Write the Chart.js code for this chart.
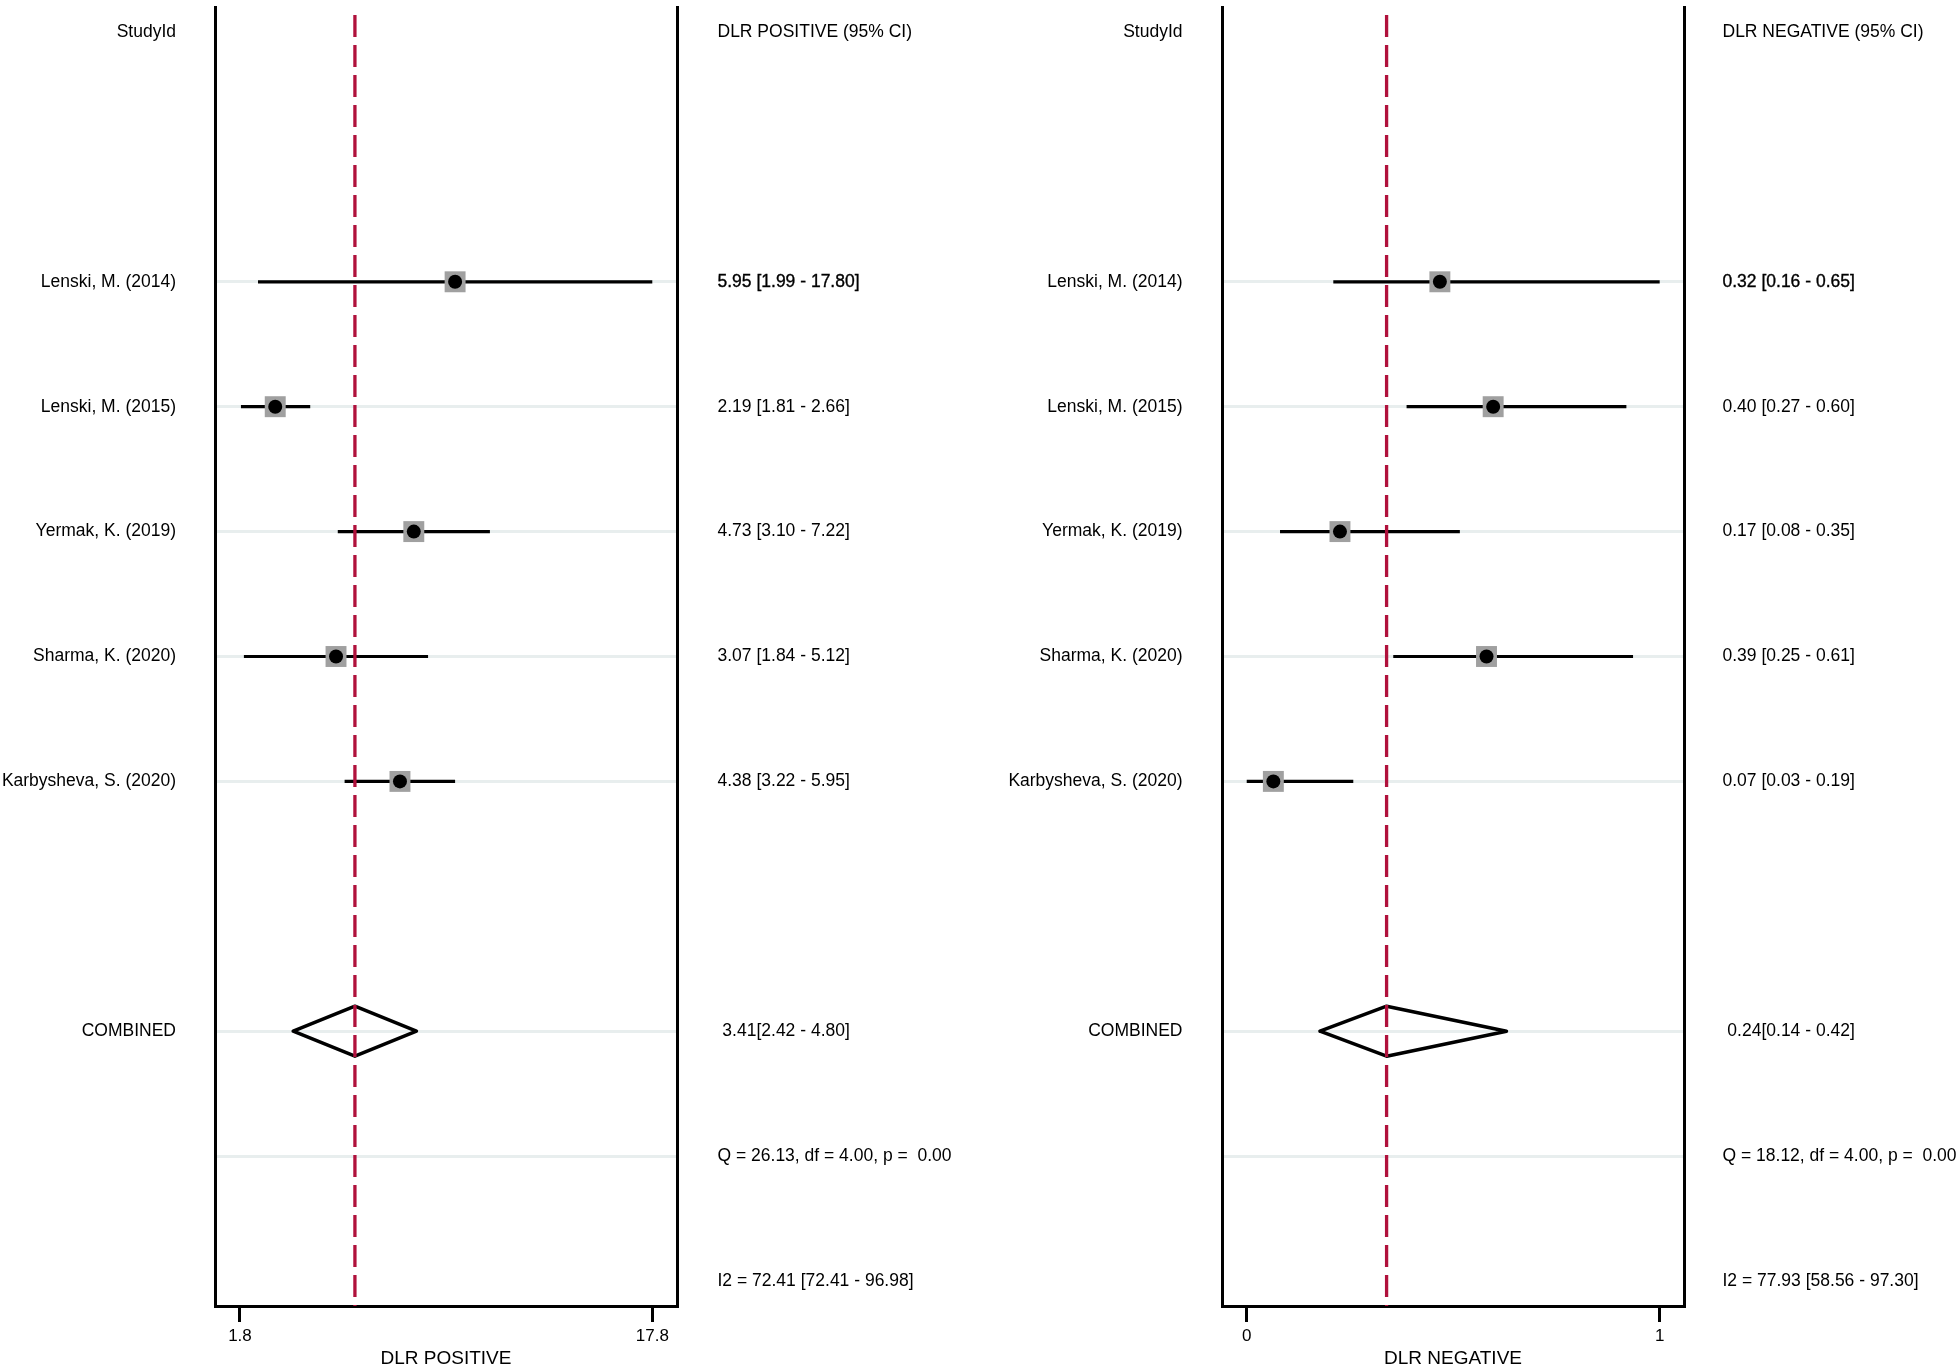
<!DOCTYPE html>
<html>
<head>
<meta charset="utf-8">
<title>DLR forest plots</title>
<script src="https://cdn.jsdelivr.net/npm/chart.js@4.4.1/dist/chart.umd.min.js"></script>
<style>
  html, body { margin: 0; padding: 0; background: #fff; }
  #wrap { position: relative; width: 1960px; height: 1368px; overflow: hidden; }
  canvas { position: absolute; top: 0; }
  #posChart { left: 0; }
  #negChart { left: 980px; }
</style>
</head>
<body>
<div id="wrap">
  <canvas id="posChart" width="980" height="1368"></canvas>
  <canvas id="negChart" width="980" height="1368"></canvas>
</div>
<script>
var studies = ["Lenski, M. (2014)", "Lenski, M. (2015)", "Yermak, K. (2019)", "Sharma, K. (2020)", "Karbysheva, S. (2020)"];

// DLR positive
var posEst = [5.95, 2.19, 4.73, 3.07, 4.38];
var posLow = [1.99, 1.81, 3.10, 1.84, 3.22];
var posHigh = [17.80, 2.66, 7.22, 5.12, 5.95];
var posCombined = [3.41, 2.42, 4.80];   // estimate, low, high
var posQ = [26.13, 4.00, 0.00];         // Q, df, p
var posI2 = [72.41, 72.41, 96.98];
var posTickValues = [1.8, 17.8];
var posTickLabels = ["1.8", "17.8"];

// DLR negative
var negEst = [0.32, 0.40, 0.17, 0.39, 0.07];
var negLow = [0.16, 0.27, 0.08, 0.25, 0.03];
var negHigh = [0.65, 0.60, 0.35, 0.61, 0.19];
var negCombined = [0.24, 0.14, 0.42];
var negQ = [18.12, 4.00, 0.00];
var negI2 = [77.93, 58.56, 97.30];
var negTickValues = [0.03, 0.65];
var negTickLabels = ["0", "1"];

var FONT = '"Liberation Sans", Arial, Helvetica, sans-serif';
Chart.defaults.font.family = FONT;
Chart.defaults.color = '#000';

var Y_MIN = -0.2, Y_MAX = 10.2;
function studyRow(i) { return i + 2; }
var combinedRow = studies.length + 3;
var qRow = combinedRow + 1;
var i2Row = combinedRow + 2;

function f2(v) { return v.toFixed(2); }

var textColumns = {
  id: 'textColumns',
  afterDraw: function(chart, args, opts) {
    var ctx = chart.ctx, y = chart.scales.y;
    ctx.save();
    ctx.font = '17.5px ' + FONT;
    ctx.fillStyle = '#000';
    ctx.strokeStyle = '#000';
    ctx.textBaseline = 'middle';
    opts.rows.forEach(function(r) {
      var py = y.getPixelForValue(r.row);
      if (r.label) {
        ctx.textAlign = 'right';
        ctx.fillText(r.label, opts.labelX, py);
      }
      if (r.value) {
        ctx.textAlign = 'left';
        ctx.fillText(r.value, opts.valueX, py);
        if (r.bold) {
          ctx.lineWidth = 0.35;
          ctx.strokeText(r.value, opts.valueX, py);
        }
      }
    });
    ctx.restore();
  }
};

function makeForest(id, c) {
  var datasets = [];

  // reference line at combined estimate
  datasets.push({
    type: 'scatter', showLine: true, order: 0,
    data: [{ x: c.combined[0], y: Y_MIN }, { x: c.combined[0], y: Y_MAX }],
    borderColor: '#b0113c', borderWidth: 3.3, borderDash: [22, 8], borderDashOffset: 22,
    pointRadius: 0
  });

  // dots
  datasets.push({
    type: 'scatter', order: 1,
    data: c.est.map(function(e, i) { return { x: e, y: studyRow(i) }; }),
    pointStyle: 'circle', pointRadius: 7, backgroundColor: '#000', borderWidth: 0
  });

  // grey squares
  datasets.push({
    type: 'scatter', order: 2,
    data: c.est.map(function(e, i) { return { x: e, y: studyRow(i) }; }),
    pointStyle: 'rect', pointRadius: 14.8, backgroundColor: '#a0a0a0', borderWidth: 0
  });

  // combined diamond
  var h = 0.2;
  datasets.push({
    type: 'scatter', showLine: true, order: 3,
    data: [
      { x: c.combined[1], y: combinedRow },
      { x: c.combined[0], y: combinedRow - h },
      { x: c.combined[2], y: combinedRow },
      { x: c.combined[0], y: combinedRow + h },
      { x: c.combined[1], y: combinedRow }
    ],
    borderColor: '#000', borderWidth: 3.5, borderJoinStyle: 'round', borderCapStyle: 'round',
    pointRadius: 0, fill: false
  });

  // confidence intervals
  c.est.forEach(function(e, i) {
    datasets.push({
      type: 'scatter', showLine: true, order: 4,
      data: [{ x: c.low[i], y: studyRow(i) }, { x: c.high[i], y: studyRow(i) }],
      borderColor: '#000', borderWidth: 3.2, pointRadius: 0
    });
  });

  var rows = [{ row: 0, label: 'StudyId', value: c.header }];
  studies.forEach(function(s, i) {
    rows.push({ row: studyRow(i), label: s,
      value: f2(c.est[i]) + ' [' + f2(c.low[i]) + ' - ' + f2(c.high[i]) + ']', bold: i === 0 });
  });
  rows.push({ row: combinedRow, label: 'COMBINED',
    value: ' ' + f2(c.combined[0]) + '[' + f2(c.combined[1]) + ' - ' + f2(c.combined[2]) + ']' });
  rows.push({ row: qRow, value: 'Q = ' + f2(c.q[0]) + ', df = ' + f2(c.q[1]) + ', p =  ' + f2(c.q[2]) });
  rows.push({ row: i2Row, value: 'I2 = ' + f2(c.i2[0]) + ' [' + f2(c.i2[1]) + ' - ' + f2(c.i2[2]) + ']' });

  var gridRows = c.est.map(function(e, i) { return studyRow(i); }).concat([combinedRow, qRow]);

  return new Chart(document.getElementById(id), {
    type: 'scatter',
    data: { datasets: datasets },
    options: {
      responsive: false,
      animation: false,
      events: [],
      layout: { autoPadding: false, padding: { left: c.padLeft, right: c.padRight, top: 7, bottom: 0 } },
      plugins: {
        legend: { display: false },
        tooltip: { enabled: false },
        textColumns: { rows: rows, labelX: c.labelX, valueX: c.valueX }
      },
      scales: {
        x: {
          type: c.xType,
          min: c.xMin, max: c.xMax,
          bounds: 'data',
          afterBuildTicks: function(s) { s.ticks = c.tickValues.map(function(v) { return { value: v }; }); },
          afterFit: function(s) { s.height = 62; },
          ticks: {
            callback: function(v, i) { return c.tickLabels[i]; },
            color: '#000', font: { size: 17 }, padding: 4, maxRotation: 0, autoSkip: false
          },
          grid: { drawOnChartArea: false, drawTicks: true, tickLength: 16, tickWidth: 3, tickColor: '#000', lineWidth: 3, color: '#000' },
          border: { display: true, color: '#000', width: 3 },
          title: { display: true, text: c.title, color: '#000', font: { size: 19, lineHeight: 1 }, padding: { top: 0, bottom: 0 } }
        },
        y: {
          type: 'linear', position: 'left', reverse: true,
          min: Y_MIN, max: Y_MAX, bounds: 'data',
          afterBuildTicks: function(s) { s.ticks = gridRows.map(function(v) { return { value: v }; }); },
          afterFit: function(s) { s.width = 0; },
          ticks: { display: false },
          grid: { drawTicks: false, color: '#e8eeee', lineWidth: 3 },
          border: { display: true, color: '#000', width: 3 }
        },
        y2: {
          type: 'linear', position: 'right', min: 0, max: 1,
          afterFit: function(s) { s.width = 0; },
          ticks: { display: false },
          grid: { display: false, drawTicks: false },
          border: { display: true, color: '#000', width: 3 }
        }
      }
    },
    plugins: [textColumns]
  });
}

makeForest('posChart', {
  est: posEst, low: posLow, high: posHigh, combined: posCombined, q: posQ, i2: posI2,
  tickValues: posTickValues, tickLabels: posTickLabels,
  xType: 'logarithmic', xMin: 1.567, xMax: 20.42,
  title: 'DLR POSITIVE', header: 'DLR POSITIVE (95% CI)',
  padLeft: 215, padRight: 303, labelX: 176, valueX: 717.5
});

makeForest('negChart', {
  est: negEst, low: negLow, high: negHigh, combined: negCombined, q: negQ, i2: negI2,
  tickValues: negTickValues, tickLabels: negTickLabels,
  xType: 'linear', xMin: -0.0071, xMax: 0.6865,
  title: 'DLR NEGATIVE', header: 'DLR NEGATIVE (95% CI)',
  padLeft: 242, padRight: 276, labelX: 202.5, valueX: 742.5
});
</script>
</body>
</html>
